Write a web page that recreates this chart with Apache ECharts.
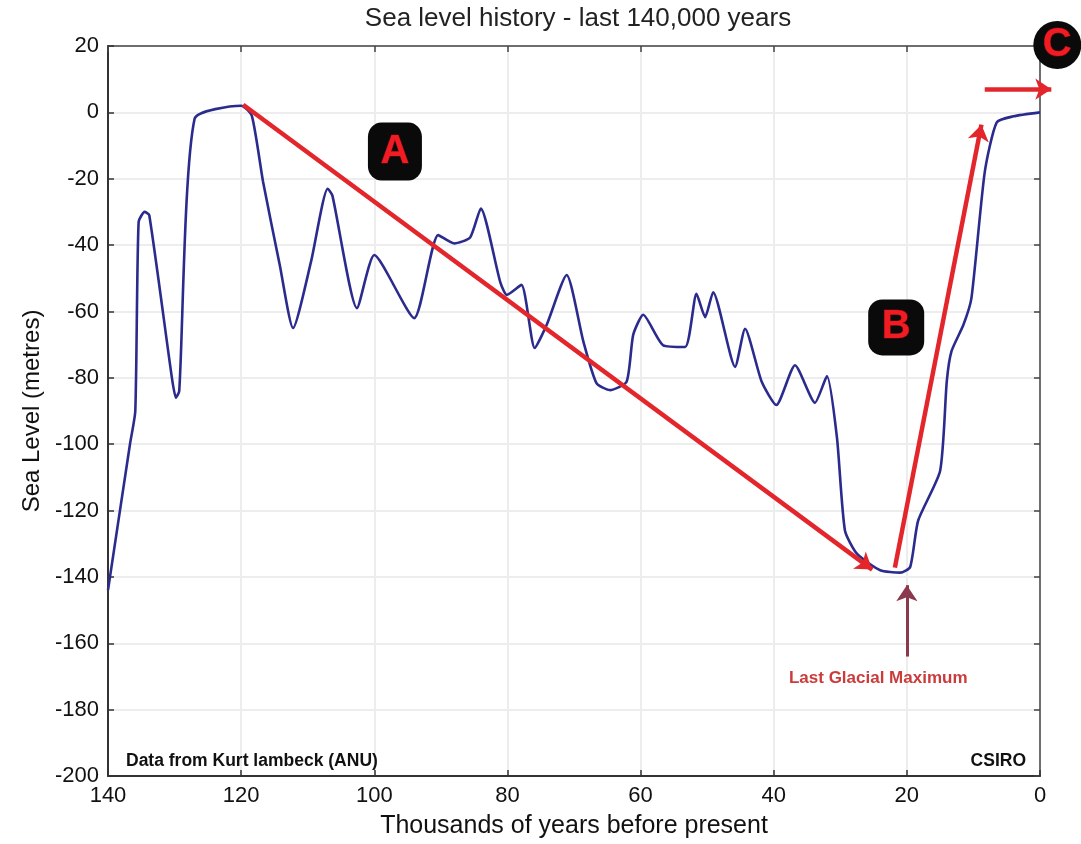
<!DOCTYPE html>
<html>
<head>
<meta charset="utf-8">
<title>Sea level history - last 140,000 years</title>
<script src="https://cdn.jsdelivr.net/npm/echarts@6/dist/echarts.min.js"></script>
<style>
  html, body { margin: 0; padding: 0; background: #ffffff; }
  #chart { width: 1081px; height: 844px; }
</style>
</head>
<body>
<div id="chart"></div>
<script>
// Sea level reconstruction (thousands of years before present, metres)
const years = [140, 136.7, 135.9, 135.4, 134.5, 133.8, 130.4, 129.8, 129.3, 127, 120, 118.4, 116.7, 114.2, 112.2,
  109.5, 107, 106.3, 102.6, 100, 94, 90.4, 88, 85.6, 84, 81.1, 80.1, 77.9, 75.9, 74.1, 71.1, 68.6, 66.6, 64.6,
  62.1, 61.1, 59.6, 56.6, 53.3, 51.6, 50.3, 49.1, 45.8, 44.3, 41.8, 39.6, 36.8, 33.8, 32, 30.5, 29.3, 27.5,
  24, 21, 19.5, 18.3, 15, 14, 13.3, 11.5, 10.3, 8.3, 6.5, 4, 0];
const seaLevel = [-144, -100, -90, -33, -30, -31, -80, -86, -84, -2, 2, -1, -21, -46, -65,
  -45, -23, -25, -59, -43, -62, -37, -39.5, -37.7, -29, -51, -55, -52, -71, -64, -49, -69, -81.7, -83.7,
  -81.2, -67, -61, -70.2, -70.7, -54.7, -61.7, -54.2, -76.7, -65.2, -81.2, -88.2, -76.2, -87.5, -79.5, -98, -126, -133,
  -138, -138.7, -137, -123, -108, -81, -72, -64, -56, -18, -3, -1.2, 0];

// Axis ticks
const xTicks = { min: 0, max: 140, step: 20 };
const yTicks = { min: -200, max: 20, step: 20 };

// Red trend arrows (start, end) in data units
const arrowA = [[119.7, 2.3], [25.2, -137.8]];
const arrowB = [[21.8, -137.2], [8.8, -3.7]];
const arrowC = [[8.3, 7], [-1.7, 7]];
// Last Glacial Maximum pointer and its caption
const lgmArrow = [[20, -164], [20, -142.5]];
const lgmLabel = { text: 'Last Glacial Maximum', at: [24.3, -170.5] };
// Letter badges
const badges = [
  { letter: 'A', at: [96.9, -11.8], shape: 'roundRect', size: [54, 58] },
  { letter: 'B', at: [21.6, -64.8], shape: 'roundRect', size: [56, 56] },
  { letter: 'C', at: [-2.6, 20.3], shape: 'circle', size: [48, 48] }
];

const FONT = 'Liberation Sans';
const RED = '#e3262b';
const chart = echarts.init(document.getElementById('chart'), null, { renderer: 'canvas' });

const seriesData = years.map((x, i) => [x, seaLevel[i]]);

// Points outside the axis range are dropped by the marker filter,
// so every marker position is resolved to pixels through the grid's scales.
function px(coord) {
  const p = chart.convertToPixel({ gridIndex: 0 }, coord);
  return { x: p[0], y: p[1] };
}

function arrowItem(seg, color, width) {
  return [
    Object.assign(px(seg[0]), { lineStyle: { color: color, width: width, type: 'solid' } }),
    px(seg[1])
  ];
}

function badgeItem(b) {
  return Object.assign(px(b.at), {
    symbol: b.shape,
    symbolSize: b.size,
    itemStyle: { color: '#0a0a0a' },
    label: {
      show: true,
      formatter: b.letter,
      position: 'inside',
      fontFamily: FONT,
      fontSize: 40,
      fontWeight: 'bold',
      color: '#f01c24',
      textBorderColor: '#7a0a0a',
      textBorderWidth: 1
    }
  });
}

const axisFont = { fontFamily: FONT, fontSize: 22, color: '#111', margin: 9 };

const option = {
  backgroundColor: '#ffffff',
  animation: false,
  title: {
    text: 'Sea level history - last 140,000 years',
    left: 573,
    top: 1,
    textAlign: 'center',
    textStyle: { fontFamily: FONT, fontSize: 26, fontWeight: 'normal', color: '#222' }
  },
  grid: { left: 108, right: 41, top: 46, bottom: 65, containLabel: false },
  xAxis: [
    {
      type: 'value', min: xTicks.min, max: xTicks.max, interval: xTicks.step, inverse: true,
      position: 'bottom',
      name: 'Thousands of years before present', nameLocation: 'middle', nameGap: 38,
      nameTextStyle: { fontFamily: FONT, fontSize: 25, color: '#111' },
      axisLine: { show: true, onZero: false, lineStyle: { color: '#333', width: 2 } },
      axisTick: { show: true, inside: true, length: 6, lineStyle: { color: '#333', width: 1.5 } },
      axisLabel: axisFont,
      splitLine: { show: true, lineStyle: { color: '#ededed', width: 2 } }
    },
    {
      type: 'value', min: xTicks.min, max: xTicks.max, interval: xTicks.step, inverse: true,
      position: 'top',
      axisLine: { show: true, onZero: false, lineStyle: { color: '#444', width: 1.5 } },
      axisTick: { show: true, inside: true, length: 6, lineStyle: { color: '#444', width: 1.5 } },
      axisLabel: { show: false },
      splitLine: { show: false }
    }
  ],
  yAxis: [
    {
      type: 'value', min: yTicks.min, max: yTicks.max, interval: yTicks.step,
      position: 'left',
      name: 'Sea Level (metres)', nameLocation: 'middle', nameGap: 62, nameRotate: 90,
      nameTextStyle: { fontFamily: FONT, fontSize: 24, color: '#111' },
      axisLine: { show: true, onZero: false, lineStyle: { color: '#333', width: 2 } },
      axisTick: { show: true, inside: true, length: 6, lineStyle: { color: '#333', width: 1.5 } },
      axisLabel: axisFont,
      splitLine: { show: true, lineStyle: { color: '#ededed', width: 2 } }
    },
    {
      type: 'value', min: yTicks.min, max: yTicks.max, interval: yTicks.step,
      position: 'right',
      axisLine: { show: true, onZero: false, lineStyle: { color: '#444', width: 1.5 } },
      axisTick: { show: true, inside: true, length: 6, lineStyle: { color: '#444', width: 1.5 } },
      axisLabel: { show: false },
      splitLine: { show: false }
    }
  ],
  series: [
    {
      name: 'Sea level',
      type: 'line',
      xAxisIndex: 0,
      yAxisIndex: 0,
      data: seriesData,
      smooth: 0.2,
      showSymbol: false,
      clip: false,
      z: 3,
      lineStyle: { color: '#2b2b8e', width: 2.6 }
    }
  ],
  graphic: [
    {
      type: 'text', left: 126, top: 752, z: 100,
      style: { text: 'Data from Kurt lambeck (ANU)', fontFamily: FONT, fontSize: 17.5, fontWeight: 'bold', fill: '#111' }
    },
    {
      type: 'text', right: 55, top: 752, z: 100,
      style: { text: 'CSIRO', fontFamily: FONT, fontSize: 17.5, fontWeight: 'bold', fill: '#111' }
    }
  ]
};

chart.setOption(option);

// Annotations: arrows, letter badges and the LGM caption
chart.setOption({
  series: [{
    markLine: {
      silent: true,
      symbol: ['none', 'arrow'],
      symbolSize: [16, 16],
      label: { show: false },
      emphasis: { disabled: true },
      data: [
        arrowItem(arrowA, RED, 4.5),
        arrowItem(arrowB, RED, 4.5),
        arrowItem(arrowC, RED, 4.5),
        arrowItem(lgmArrow, '#8a3a4c', 3)
      ]
    },
    markPoint: {
      silent: true,
      data: badges.map(badgeItem).concat([Object.assign(px(lgmLabel.at), {
        symbol: 'circle',
        symbolSize: 0,
        itemStyle: { color: 'transparent' },
        label: {
          show: true,
          formatter: lgmLabel.text,
          position: 'inside',
          fontFamily: FONT,
          fontSize: 17,
          fontWeight: 'bold',
          color: '#cc3b3b'
        }
      })])
    }
  }]
});
</script>
</body>
</html>
